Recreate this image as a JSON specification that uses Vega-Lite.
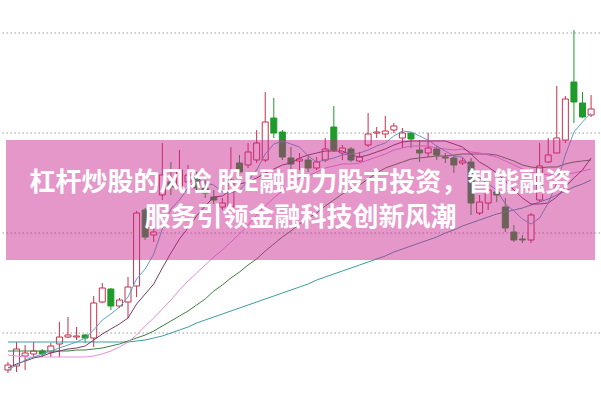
{
  "$schema": "https://vega.github.io/schema/vega-lite/v6.json",
  "width": 601,
  "height": 401,
  "autosize": {"type": "fit", "contains": "padding"},
  "padding": 0,
  "background": "white",
  "config": {"view": {"stroke": null}},
  "datasets": {
    "k": [
      {"i":0,"o":6.3,"c":6.8,"h":7.1,"l":6.0,"m5":6.3,"m10":6.5,"m20":7.8,"m30":8.2,"m60":9.1},
      {"i":1,"o":6.7,"c":8.4,"h":9.1,"l":6.1,"m5":6.8,"m10":6.9,"m20":7.7,"m30":8.2,"m60":9.1},
      {"i":2,"o":7.7,"c":8.0,"h":8.8,"l":6.3,"m5":7.3,"m10":7.2,"m20":7.6,"m30":8.2,"m60":9.1},
      {"i":3,"o":7.9,"c":8.2,"h":9.1,"l":7.6,"m5":7.6,"m10":7.5,"m20":7.6,"m30":8.2,"m60":9.1},
      {"i":4,"o":8.2,"c":7.9,"h":8.4,"l":7.6,"m5":7.9,"m10":7.7,"m20":7.6,"m30":8.2,"m60":9.1},
      {"i":5,"o":8.1,"c":8.7,"h":9.0,"l":7.6,"m5":8.2,"m10":8.0,"m20":7.6,"m30":8.2,"m60":9.1},
      {"i":6,"o":8.9,"c":9.6,"h":11.1,"l":7.6,"m5":8.5,"m10":8.2,"m20":7.6,"m30":8.2,"m60":9.1},
      {"i":7,"o":9.6,"c":9.8,"h":11.6,"l":9.5,"m5":8.8,"m10":8.4,"m20":7.6,"m30":8.2,"m60":9.1},
      {"i":8,"o":9.6,"c":9.7,"h":10.6,"l":9.3,"m5":9.1,"m10":8.5,"m20":7.6,"m30":8.3,"m60":9.1},
      {"i":9,"o":9.8,"c":9.5,"h":9.9,"l":9.0,"m5":9.5,"m10":8.7,"m20":7.6,"m30":8.3,"m60":9.1},
      {"i":10,"o":9.5,"c":13.0,"h":13.7,"l":8.6,"m5":10.3,"m10":9.3,"m20":7.7,"m30":8.4,"m60":9.1},
      {"i":11,"o":13.1,"c":14.5,"h":15.0,"l":13.0,"m5":11.3,"m10":9.9,"m20":7.9,"m30":8.5,"m60":9.1},
      {"i":12,"o":14.4,"c":12.7,"h":14.5,"l":12.3,"m5":11.9,"m10":10.4,"m20":8.2,"m30":8.7,"m60":9.1},
      {"i":13,"o":12.7,"c":13.3,"h":13.5,"l":12.5,"m5":12.6,"m10":10.9,"m20":8.6,"m30":8.9,"m60":9.1},
      {"i":14,"o":13.1,"c":14.6,"h":15.6,"l":11.5,"m5":13.6,"m10":11.5,"m20":9.1,"m30":9.2,"m60":9.1},
      {"i":15,"o":14.7,"c":22.0,"h":22.2,"l":13.6,"m5":15.4,"m10":12.9,"m20":9.8,"m30":9.5,"m60":9.2},
      {"i":16,"o":22.3,"c":19.6,"h":22.5,"l":19.3,"m5":16.4,"m10":13.9,"m20":10.7,"m30":9.8,"m60":9.3},
      {"i":17,"o":19.8,"c":20.1,"h":20.5,"l":19.1,"m5":17.9,"m10":14.9,"m20":11.5,"m30":10.2,"m60":9.5},
      {"i":18,"o":23.8,"c":25.8,"h":29.0,"l":23.3,"m5":20.4,"m10":16.5,"m20":12.4,"m30":10.7,"m60":9.7},
      {"i":19,"o":25.1,"c":24.6,"h":27.1,"l":23.8,"m5":22.4,"m10":18.0,"m20":13.3,"m30":11.2,"m60":10.0},
      {"i":20,"o":24.7,"c":26.3,"h":28.3,"l":24.3,"m5":23.3,"m10":19.4,"m20":14.3,"m30":11.7,"m60":10.3},
      {"i":21,"o":25.1,"c":25.8,"h":26.8,"l":24.7,"m5":24.5,"m10":20.5,"m20":15.2,"m30":12.2,"m60":10.6},
      {"i":22,"o":25.5,"c":24.5,"h":26.1,"l":24.1,"m5":25.4,"m10":21.7,"m20":16.0,"m30":12.8,"m60":11.0},
      {"i":23,"o":24.5,"c":24.0,"h":25.3,"l":23.5,"m5":25.0,"m10":22.7,"m20":16.8,"m30":13.4,"m60":11.3},
      {"i":24,"o":23.6,"c":23.3,"h":24.3,"l":22.9,"m5":24.8,"m10":23.6,"m20":17.6,"m30":14.2,"m60":11.6},
      {"i":25,"o":22.6,"c":23.0,"h":23.5,"l":22.3,"m5":24.1,"m10":23.7,"m20":18.3,"m30":14.8,"m60":11.9},
      {"i":26,"o":22.6,"c":25.3,"h":28.6,"l":22.4,"m5":24.0,"m10":24.3,"m20":19.1,"m30":15.5,"m60":12.2},
      {"i":27,"o":27.0,"c":26.1,"h":27.8,"l":25.5,"m5":24.3,"m10":24.9,"m20":19.9,"m30":16.1,"m60":12.5},
      {"i":28,"o":26.8,"c":28.1,"h":29.0,"l":26.5,"m5":25.2,"m10":25.1,"m20":20.8,"m30":16.8,"m60":12.8},
      {"i":29,"o":27.3,"c":29.0,"h":30.3,"l":27.0,"m5":26.3,"m10":25.5,"m20":21.8,"m30":17.4,"m60":13.1},
      {"i":30,"o":27.3,"c":31.1,"h":34.1,"l":27.1,"m5":27.9,"m10":26.0,"m20":22.7,"m30":18.2,"m60":13.4},
      {"i":31,"o":31.5,"c":30.0,"h":33.5,"l":29.5,"m5":28.9,"m10":26.4,"m20":23.5,"m30":18.9,"m60":13.7},
      {"i":32,"o":30.1,"c":27.6,"h":30.3,"l":27.3,"m5":29.2,"m10":26.8,"m20":24.2,"m30":19.6,"m60":14.0},
      {"i":33,"o":27.5,"c":26.9,"h":28.6,"l":26.3,"m5":28.9,"m10":27.0,"m20":24.9,"m30":20.2,"m60":14.3},
      {"i":34,"o":27.2,"c":27.4,"h":28.0,"l":26.3,"m5":28.6,"m10":27.5,"m20":25.5,"m30":20.9,"m60":14.6},
      {"i":35,"o":27.3,"c":26.5,"h":27.8,"l":26.1,"m5":27.7,"m10":27.8,"m20":25.7,"m30":21.5,"m60":14.9},
      {"i":36,"o":26.5,"c":27.1,"h":27.6,"l":26.3,"m5":27.1,"m10":28.0,"m20":26.1,"m30":22.0,"m60":15.3},
      {"i":37,"o":27.3,"c":28.4,"h":29.5,"l":27.1,"m5":27.3,"m10":28.2,"m20":26.5,"m30":22.7,"m60":15.6},
      {"i":38,"o":30.6,"c":28.3,"h":32.7,"l":28.1,"m5":27.5,"m10":28.2,"m20":26.7,"m30":23.3,"m60":15.9},
      {"i":39,"o":28.0,"c":28.5,"h":28.8,"l":27.3,"m5":27.8,"m10":28.2,"m20":26.9,"m30":23.9,"m60":16.2},
      {"i":40,"o":28.4,"c":27.3,"h":28.6,"l":27.1,"m5":27.9,"m10":27.8,"m20":26.9,"m30":24.4,"m60":16.5},
      {"i":41,"o":27.2,"c":27.6,"h":28.1,"l":27.1,"m5":28.0,"m10":27.6,"m20":27.0,"m30":24.8,"m60":16.8},
      {"i":42,"o":28.8,"c":29.9,"h":32.0,"l":28.6,"m5":28.3,"m10":27.8,"m20":27.3,"m30":25.4,"m60":17.1},
      {"i":43,"o":30.0,"c":30.1,"h":30.6,"l":29.5,"m5":28.7,"m10":28.1,"m20":27.6,"m30":26.0,"m60":17.4},
      {"i":44,"o":29.9,"c":30.2,"h":31.7,"l":29.5,"m5":29.0,"m10":28.4,"m20":27.9,"m30":26.5,"m60":17.7},
      {"i":45,"o":30.3,"c":30.7,"h":31.0,"l":30.0,"m5":29.7,"m10":28.8,"m20":28.3,"m30":26.8,"m60":18.1},
      {"i":46,"o":29.5,"c":30.0,"h":30.5,"l":28.5,"m5":30.2,"m10":29.1,"m20":28.5,"m30":27.1,"m60":18.4},
      {"i":47,"o":30.0,"c":29.4,"h":30.1,"l":28.5,"m5":30.1,"m10":29.2,"m20":28.7,"m30":27.4,"m60":18.7},
      {"i":48,"o":28.3,"c":28.0,"h":29.3,"l":27.1,"m5":29.7,"m10":29.2,"m20":28.7,"m30":27.5,"m60":19.0},
      {"i":49,"o":28.0,"c":28.5,"h":30.0,"l":27.6,"m5":29.3,"m10":29.2,"m20":28.7,"m30":27.6,"m60":19.3},
      {"i":50,"o":28.4,"c":27.8,"h":28.7,"l":27.3,"m5":28.7,"m10":29.2,"m20":28.5,"m30":27.7,"m60":19.6},
      {"i":51,"o":27.6,"c":27.5,"h":28.0,"l":27.0,"m5":28.2,"m10":29.2,"m20":28.4,"m30":27.7,"m60":20.0},
      {"i":52,"o":27.5,"c":26.8,"h":27.8,"l":26.0,"m5":27.7,"m10":28.9,"m20":28.3,"m30":27.8,"m60":20.3},
      {"i":53,"o":27.0,"c":27.2,"h":27.5,"l":26.8,"m5":27.6,"m10":28.6,"m20":28.4,"m30":27.9,"m60":20.7},
      {"i":54,"o":27.1,"c":23.0,"h":27.5,"l":21.8,"m5":26.5,"m10":27.9,"m20":28.1,"m30":27.9,"m60":21.0},
      {"i":55,"o":22.0,"c":23.1,"h":23.8,"l":21.8,"m5":25.5,"m10":27.1,"m20":28.0,"m30":27.9,"m60":21.3},
      {"i":56,"o":23.0,"c":24.3,"h":24.8,"l":22.3,"m5":24.9,"m10":26.6,"m20":27.8,"m30":27.9,"m60":21.6},
      {"i":57,"o":24.1,"c":23.8,"h":25.5,"l":23.1,"m5":24.3,"m10":26.0,"m20":27.6,"m30":27.8,"m60":21.9},
      {"i":58,"o":22.6,"c":20.5,"h":23.5,"l":20.1,"m5":22.9,"m10":25.2,"m20":27.2,"m30":27.5,"m60":22.1},
      {"i":59,"o":20.1,"c":19.3,"h":20.8,"l":19.1,"m5":22.2,"m10":24.3,"m20":26.8,"m30":27.2,"m60":22.3},
      {"i":60,"o":19.4,"c":19.3,"h":19.8,"l":19.0,"m5":21.4,"m10":23.5,"m20":26.4,"m30":26.8,"m60":22.5},
      {"i":61,"o":19.3,"c":21.8,"h":22.0,"l":19.0,"m5":20.9,"m10":22.9,"m20":26.1,"m30":26.6,"m60":22.8},
      {"i":62,"o":23.3,"c":26.7,"h":29.0,"l":23.1,"m5":21.5,"m10":22.9,"m20":25.9,"m30":26.5,"m60":23.1},
      {"i":63,"o":27.1,"c":27.8,"h":29.5,"l":27.0,"m5":23.0,"m10":23.0,"m20":25.8,"m30":26.6,"m60":23.4},
      {"i":64,"o":28.0,"c":29.5,"h":34.7,"l":28.0,"m5":25.0,"m10":23.6,"m20":25.8,"m30":26.6,"m60":23.8},
      {"i":65,"o":29.3,"c":33.4,"h":33.7,"l":29.0,"m5":27.8,"m10":24.6,"m20":25.9,"m30":26.9,"m60":24.2},
      {"i":66,"o":35.1,"c":33.1,"h":40.3,"l":31.0,"m5":30.1,"m10":25.5,"m20":26.0,"m30":27.1,"m60":24.6},
      {"i":67,"o":33.0,"c":31.6,"h":34.1,"l":31.5,"m5":31.1,"m10":26.3,"m20":26.2,"m30":27.2,"m60":24.9},
      {"i":68,"o":31.8,"c":32.4,"h":33.8,"l":31.6,"m5":32.0,"m10":27.5,"m20":26.4,"m30":27.3,"m60":25.3}
    ],
    "grid": [{"g":10},{"g":20},{"g":30},{"g":40}],
    "banner": [{"top":29.3,"bottom":17.3,"x0":-0.2286,"x1":68.457}],
    "txt": [
      {"t":"杠杆炒股的风险 股E融助力股市投资，智能融资","x":34.1,"y":25.0},
      {"t":"服务引领金融科技创新风潮","x":34.1,"y":21.5}
    ]
  },
  "layer": [
    {
      "data": {"name": "grid"},
      "mark": {"type": "rule", "strokeDash": [1.5, 2.5], "strokeWidth": 1, "color": "#9a9a9a"},
      "encoding": {
        "y": {"field": "g", "type": "quantitative", "scale": {"domain": [3.2, 43.3], "nice": false, "zero": false}, "axis": null}
      }
    },
    {
      "data": {"name": "k"},
      "mark": {"type": "rule", "strokeWidth": 1},
      "encoding": {
        "x": {"field": "i", "type": "quantitative", "scale": {"domain": [-0.2286, 68.457], "nice": false, "zero": false}, "axis": null},
        "y": {"field": "l", "type": "quantitative", "scale": {"domain": [3.2, 43.3], "nice": false, "zero": false}, "axis": null},
        "y2": {"field": "h"},
        "color": {"condition": {"test": "datum.c >= datum.o", "value": "#c8304a"}, "value": "#1e9b2a"}
      }
    },
    {
      "data": {"name": "k"},
      "mark": {"type": "bar", "size": 6, "strokeWidth": 1, "orient": "vertical"},
      "encoding": {
        "x": {"field": "i", "type": "quantitative", "scale": {"domain": [-0.2286, 68.457], "nice": false, "zero": false}, "axis": null},
        "y": {"field": "o", "type": "quantitative", "scale": {"domain": [3.2, 43.3], "nice": false, "zero": false}, "axis": null},
        "y2": {"field": "c"},
        "fill": {"condition": {"test": "datum.c >= datum.o", "value": "#ffffff"}, "value": "#1e9b2a"},
        "stroke": {"condition": {"test": "datum.c >= datum.o", "value": "#c8304a"}, "value": "#1e9b2a"}
      }
    },
    {
      "data": {"name": "k"},
      "mark": {"type": "line", "strokeWidth": 1, "color": "#3a9e9e"},
      "encoding": {
        "x": {"field": "i", "type": "quantitative", "scale": {"domain": [-0.2286, 68.457], "nice": false, "zero": false}, "axis": null},
        "y": {"field": "m60", "type": "quantitative", "scale": {"domain": [3.2, 43.3], "nice": false, "zero": false}, "axis": null}
      }
    },
    {
      "data": {"name": "k"},
      "mark": {"type": "line", "strokeWidth": 1, "color": "#3f7f3f"},
      "encoding": {
        "x": {"field": "i", "type": "quantitative", "scale": {"domain": [-0.2286, 68.457], "nice": false, "zero": false}, "axis": null},
        "y": {"field": "m30", "type": "quantitative", "scale": {"domain": [3.2, 43.3], "nice": false, "zero": false}, "axis": null}
      }
    },
    {
      "data": {"name": "k"},
      "mark": {"type": "line", "strokeWidth": 1, "color": "#e38de0"},
      "encoding": {
        "x": {"field": "i", "type": "quantitative", "scale": {"domain": [-0.2286, 68.457], "nice": false, "zero": false}, "axis": null},
        "y": {"field": "m20", "type": "quantitative", "scale": {"domain": [3.2, 43.3], "nice": false, "zero": false}, "axis": null}
      }
    },
    {
      "data": {"name": "k"},
      "mark": {"type": "line", "strokeWidth": 1, "color": "#7b3b63"},
      "encoding": {
        "x": {"field": "i", "type": "quantitative", "scale": {"domain": [-0.2286, 68.457], "nice": false, "zero": false}, "axis": null},
        "y": {"field": "m10", "type": "quantitative", "scale": {"domain": [3.2, 43.3], "nice": false, "zero": false}, "axis": null}
      }
    },
    {
      "data": {"name": "k"},
      "mark": {"type": "line", "strokeWidth": 1, "color": "#5aa6c8"},
      "encoding": {
        "x": {"field": "i", "type": "quantitative", "scale": {"domain": [-0.2286, 68.457], "nice": false, "zero": false}, "axis": null},
        "y": {"field": "m5", "type": "quantitative", "scale": {"domain": [3.2, 43.3], "nice": false, "zero": false}, "axis": null}
      }
    },
    {
      "data": {"name": "banner"},
      "mark": {"type": "rect", "color": "#c8228c", "opacity": 0.47},
      "encoding": {
        "x": {"field": "x0", "type": "quantitative", "scale": {"domain": [-0.2286, 68.457], "nice": false, "zero": false}, "axis": null},
        "x2": {"field": "x1"},
        "y": {"field": "top", "type": "quantitative", "scale": {"domain": [3.2, 43.3], "nice": false, "zero": false}, "axis": null},
        "y2": {"field": "bottom"}
      }
    },
    {
      "data": {"name": "txt"},
      "mark": {"type": "text", "font": "Noto Sans CJK SC", "fontWeight": "bold", "fontSize": 26, "color": "#ffffff", "align": "center", "baseline": "middle"},
      "encoding": {
        "x": {"field": "x", "type": "quantitative", "scale": {"domain": [-0.2286, 68.457], "nice": false, "zero": false}, "axis": null},
        "y": {"field": "y", "type": "quantitative", "scale": {"domain": [3.2, 43.3], "nice": false, "zero": false}, "axis": null},
        "text": {"field": "t"}
      }
    }
  ]
}
